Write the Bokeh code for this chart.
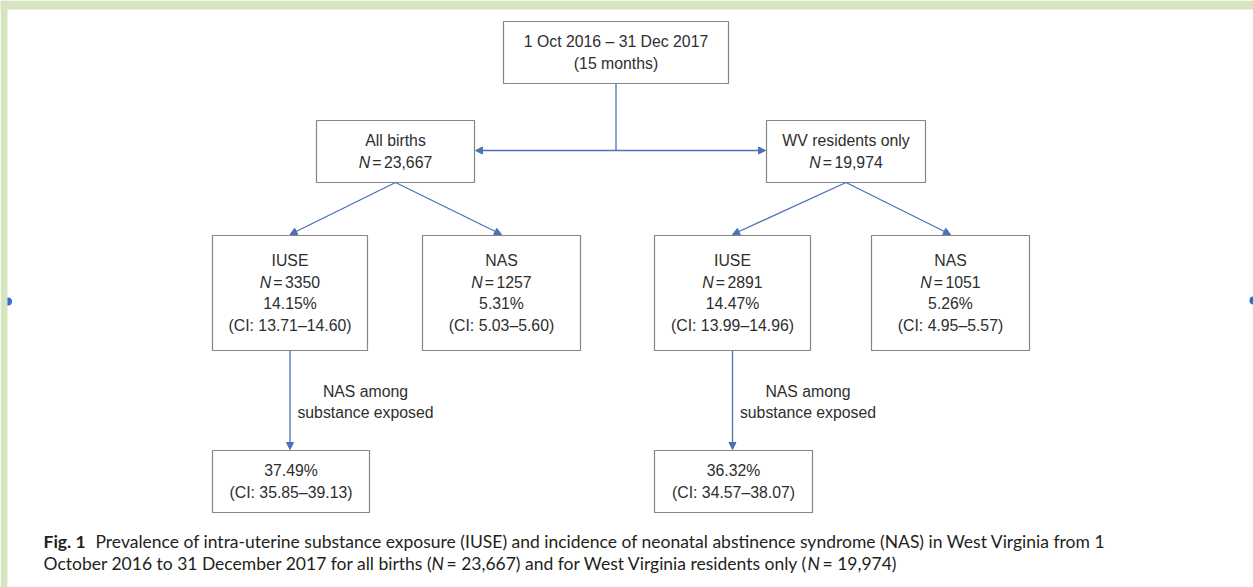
from bokeh.plotting import figure
from bokeh.models import Range1d, Arrow, NormalHead
from bokeh.core.properties import value
from bokeh.embed import file_html
from bokeh.resources import INLINE

# ---------------- data (text content of the flowchart) ----------------
period_lines = ["1 Oct 2016 \u2013 31 Dec 2017", "(15 months)"]
cohort_names = ["All births", "WV residents only"]
cohort_n = ["23,667", "19,974"]
outcome_names = ["IUSE", "NAS", "IUSE", "NAS"]
outcome_n = ["3350", "1257", "2891", "1051"]
outcome_pct = ["14.15%", "5.31%", "14.47%", "5.26%"]
outcome_ci = ["13.71\u201314.60", "5.03\u20135.60", "13.99\u201314.96", "4.95\u20135.57"]
among_pct = ["37.49%", "36.32%"]
among_ci = ["35.85\u201339.13", "34.57\u201338.07"]
edge_label = ["NAS among", "substance exposed"]
caption_fig = "Fig. 1"
caption_line1 = ("Prevalence of intra-uterine substance exposure (IUSE) and incidence of "
                 "neonatal abstinence syndrome (NAS) in West Virginia from 1")
caption_line2 = ["October 2016 to 31 December 2017 for all births (", "N",
                 "= 23,667) and for West Virginia residents only (", "N", "= 19,974)"]

# ---------------- layout (page pixel coordinates) ----------------
W, H = 1253, 587
BOX_TOP = (503, 728, 21, 83)
BOX_COHORT = [(316, 474, 120, 182), (766, 925, 120, 182)]
BOX_OUT = [(212, 367, 235, 350), (422, 580, 235, 350),
           (654, 810, 235, 350), (871, 1029, 235, 350)]
BOX_AMONG = [(212, 369, 450, 512), (654, 812, 450, 512)]
HLINE_Y = 150
LABEL_X = [365, 807.5]
LABEL_Y = [391, 412]

GREEN = "#d6e4c0"
BLUE = "#4a72b6"
BOXLINE = "#858585"
TXT = "#2e2e2e"
FONT = "Liberation Sans"
FS = 15.8
LH = 21.5

p = figure(width=W, height=H, output_backend="svg", toolbar_location=None,
           x_range=Range1d(0, W), y_range=Range1d(H, 0),
           min_border=0, outline_line_color=None)
p.axis.visible = False
p.grid.visible = False
p.background_fill_color = "white"
p.border_fill_color = "white"

# navigation dots of the original page, then green page frame on top
p.scatter(x=[7.5, 1253], y=[301, 300], size=8, fill_color="#2f6fd0", line_color=None)
p.quad(left=[0, 0], right=[W, 7], top=[0, 0], bottom=[9, H],
       fill_color=GREEN, line_color=None)

# char advance widths (Liberation Sans, per 1000 em)
ADV = {c: 556 for c in "0123456789"}
ADV.update({",": 278, ".": 278, " ": 278, "=": 584, "N": 722})


def tw(s):
    return sum(ADV.get(c, 556) for c in s) * FS / 1000.0


all_boxes = [BOX_TOP] + BOX_COHORT + BOX_OUT + BOX_AMONG
p.quad(left=[b[0] for b in all_boxes], right=[b[1] for b in all_boxes],
       top=[b[2] for b in all_boxes], bottom=[b[3] for b in all_boxes],
       fill_color="white", line_color=BOXLINE, line_width=1.2)

tx, ty, tt = [], [], []
ix, iy, it = [], [], []
lx, ly, lt = [], [], []


def center(b):
    return (b[0] + b[1]) / 2.0, (b[2] + b[3]) / 2.0


def add_lines(b, lines):
    cx, cy = center(b)
    n = len(lines)
    for k, ln in enumerate(lines):
        y = cy + (k - (n - 1) / 2.0) * LH
        if isinstance(ln, tuple):  # italic N + number
            num = ln[1]
            wN, wE, wNum = tw("N"), tw("="), tw(num)
            g1, g2 = 2.0, 2.5
            total = wN + g1 + wE + g2 + wNum
            x0 = cx - total / 2.0
            ix.append(x0); iy.append(y); it.append("N")
            lx.append(x0 + wN + g1); ly.append(y); lt.append("=")
            lx.append(x0 + wN + g1 + wE + g2); ly.append(y); lt.append(num)
        else:
            tx.append(cx); ty.append(y); tt.append(ln)


add_lines(BOX_TOP, period_lines)
for i, b in enumerate(BOX_COHORT):
    add_lines(b, [cohort_names[i], ("N", cohort_n[i])])
for i, b in enumerate(BOX_OUT):
    add_lines(b, [outcome_names[i], ("N", outcome_n[i]), outcome_pct[i],
                  "(CI: " + outcome_ci[i] + ")"])
for i, b in enumerate(BOX_AMONG):
    add_lines(b, [among_pct[i], "(CI: " + among_ci[i] + ")"])
for i in range(2):
    for k in range(2):
        tx.append(LABEL_X[i]); ty.append(LABEL_Y[k]); tt.append(edge_label[k])

p.text(x=tx, y=ty, text=tt, text_align="center", text_baseline="middle",
       text_font=value(FONT), text_font_size=f"{FS}px", text_color=TXT)
p.text(x=lx, y=ly, text=lt, text_align="left", text_baseline="middle",
       text_font=value(FONT), text_font_size=f"{FS}px", text_color=TXT)
p.text(x=ix, y=iy, text=it, text_align="left", text_baseline="middle",
       text_font=value(FONT), text_font_size=f"{FS}px", text_color=TXT,
       text_font_style="italic")

# ---------------- connectors ----------------
tcx, _ = center(BOX_TOP)
p.segment(x0=[tcx], y0=[BOX_TOP[3]], x1=[tcx], y1=[HLINE_Y], line_color=BLUE, line_width=1.3)


def arrow(x0, y0, x1, y1):
    p.add_layout(Arrow(end=NormalHead(size=7, fill_color=BLUE, line_color=BLUE),
                       x_start=x0, y_start=y0, x_end=x1, y_end=y1,
                       line_color=BLUE, line_width=1.3))


arrow(tcx, HLINE_Y, BOX_COHORT[0][1] + 1, HLINE_Y)
arrow(tcx, HLINE_Y, BOX_COHORT[1][0] - 1, HLINE_Y)
for i, cb in enumerate(BOX_COHORT):
    cx, _ = center(cb)
    for ob in BOX_OUT[2 * i:2 * i + 2]:
        ox, _ = center(ob)
        arrow(cx, cb[3], ox, ob[2] - 1)
    ob = BOX_OUT[2 * i]
    ox, _ = center(ob)
    ab = BOX_AMONG[i]
    arrow(ox, ob[3], ox, ab[2] - 1)

# ---------------- caption ----------------
CF = "Lato"
CS = "17.5px"
CC = "#231f20"
CY1, CY2 = 541, 563
p.text(x=[43], y=[CY1], text=[caption_fig], text_align="left", text_baseline="middle",
       text_font=value(CF), text_font_size=CS, text_color=CC, text_font_style="bold")
p.text(x=[95], y=[CY1], text=[caption_line1], text_align="left", text_baseline="middle",
       text_font=value(CF), text_font_size=CS, text_color=CC)
cap_x = [43, 431, 446, 807, 822]
for j, s in enumerate(caption_line2):
    p.text(x=[cap_x[j]], y=[CY2], text=[s], text_align="left", text_baseline="middle",
           text_font=value(CF), text_font_size=CS, text_color=CC,
           text_font_style="italic" if s == "N" else "normal")

open("out.html", "w").write(file_html(p, INLINE))
